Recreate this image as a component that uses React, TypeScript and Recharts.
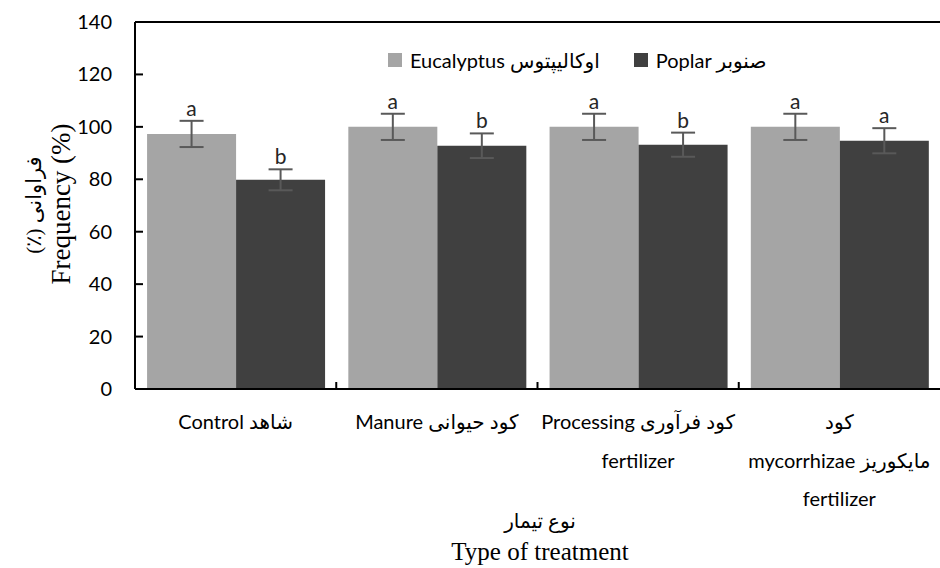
import React from "react";
import { BarChart, Bar, XAxis, YAxis, ErrorBar, LabelList, ReferenceLine } from "recharts";

const treatments = ["Control", "Manure", "Processing", "Mycorrhizae"];
const tickLines = [
  ["Control شاهد"],
  ["Manure کود حیوانی"],
  ["Processing کود فرآوری", "fertilizer"],
  ["کود", "mycorrhizae مایکوریز", "fertilizer"],
];
const eucalyptus = [97.3, 100, 100, 100];
const eucalyptusErr = [5, 5, 5, 5];
const eucalyptusLetters = ["a", "a", "a", "a"];
const poplar = [79.8, 92.8, 93.2, 94.7];
const poplarErr = [4, 4.7, 4.6, 4.8];
const poplarLetters = ["b", "b", "b", "a"];
const yTicks = [0, 20, 40, 60, 80, 100, 120, 140];
const seriesNames = ["Eucalyptus اوکالیپتوس", "Poplar صنوبر"];
const seriesColors = ["#A5A5A5", "#404040"];

const W = 940;
const H = 568;
const margin = { top: 22, right: 0, left: 0, bottom: 79 };
const yAxisWidth = 135;
const band = (W - yAxisWidth - margin.left - margin.right) / treatments.length;
const sans = "Lato, 'DejaVu Sans', sans-serif";
const serif = "'Liberation Serif', 'DejaVu Sans', serif";

const data = treatments.map((name, i) => ({
  name,
  eucalyptus: eucalyptus[i],
  eucalyptusErr: eucalyptusErr[i],
  eucalyptusLetter: eucalyptusLetters[i],
  poplar: poplar[i],
  poplarErr: poplarErr[i],
  poplarLetter: poplarLetters[i],
}));

function XTick(props: any) {
  const { x, y, payload } = props;
  const idx = payload.index ?? props.index ?? 0;
  const lines = tickLines[idx];
  return (
    <g>
      {idx > 0 && (
        <line x1={x - band / 2} x2={x - band / 2} y1={y} y2={y - 7} stroke="#000" strokeWidth={2} />
      )}
      {lines.map((l, i) => (
        <text key={i} x={x} y={y + 40 + i * 38.5} textAnchor="middle" fontSize={20} fontFamily={sans} fill="#000">
          {l}
        </text>
      ))}
    </g>
  );
}

function YTick(props: any) {
  const { x, y, payload } = props;
  return (
    <g>
      <line x1={x + 23} x2={x + 31} y1={y} y2={y} stroke="#000" strokeWidth={2} />
      <text x={x} y={y} dy="0.35em" textAnchor="end" fontSize={20} fontFamily={sans} fill="#000">
        {payload.value}
      </text>
    </g>
  );
}

function letterLabel(values: number[], errs: number[]) {
  return (props: any) => {
    const vb = props.viewBox || {};
    const x = props.x ?? vb.x;
    const y = props.y ?? vb.y;
    const width = props.width ?? vb.width;
    const height = props.height ?? vb.height;
    const i = props.index ?? 0;
    const k = height / values[i];
    const top = y - errs[i] * k;
    return (
      <text x={x + width / 2} y={top - 5} textAnchor="middle" fontSize={21} fontFamily={sans} fill="#262626">
        {props.value}
      </text>
    );
  };
}

export default function App() {
  return (
    <div style={{ position: "absolute", left: 0, top: 0, width: W, height: H, background: "#fff", overflow: "hidden" }}>
      <BarChart width={W} height={H} data={data} margin={margin} barCategoryGap="6%" barGap={0}>
        <XAxis
          dataKey="name"
          height={100}
          axisLine={{ stroke: "#000", strokeWidth: 2 }}
          tickLine={false}
          tickSize={0}
          tickMargin={0}
          interval={0}
          tick={<XTick />}
        />
        <YAxis
          width={yAxisWidth}
          domain={[0, 140]}
          ticks={yTicks}
          axisLine={{ stroke: "#000", strokeWidth: 2 }}
          tickLine={false}
          tickSize={0}
          tickMargin={23}
          tick={<YTick />}
        />
        <ReferenceLine y={140} stroke="#000" strokeWidth={2} />
        <Bar dataKey="eucalyptus" fill={seriesColors[0]} isAnimationActive={false}>
          <ErrorBar dataKey="eucalyptusErr" width={12} stroke="#595959" strokeWidth={2} />
          <LabelList dataKey="eucalyptusLetter" content={letterLabel(eucalyptus, eucalyptusErr)} />
        </Bar>
        <Bar dataKey="poplar" fill={seriesColors[1]} isAnimationActive={false}>
          <ErrorBar dataKey="poplarErr" width={12} stroke="#595959" strokeWidth={2} />
          <LabelList dataKey="poplarLetter" content={letterLabel(poplar, poplarErr)} />
        </Bar>
      </BarChart>
      <div
        style={{
          position: "absolute", left: 388, top: 49, display: "flex", alignItems: "center",
          fontFamily: sans, fontSize: 20, color: "#000", whiteSpace: "nowrap", lineHeight: "22px",
        }}
      >
        {seriesNames.map((label, i) => (
          <div key={i} style={{ display: "flex", alignItems: "center", marginRight: i === 0 ? 34 : 0 }}>
            <span style={{ width: 14, height: 14, background: seriesColors[i], display: "inline-block", marginRight: 8 }} />
            <span>{label}</span>
          </div>
        ))}
      </div>
      <div
        style={{
          position: "absolute", left: 34, top: 205, transform: "translate(-50%, -50%) rotate(-90deg)",
          fontFamily: serif, fontSize: 21, whiteSpace: "nowrap", direction: "rtl",
        }}
      >
        فراوانی (٪)
      </div>
      <div
        style={{
          position: "absolute", left: 61, top: 204, transform: "translate(-50%, -50%) rotate(-90deg)",
          fontFamily: serif, fontSize: 27, whiteSpace: "nowrap",
        }}
      >
        Frequency (%)
      </div>
      <div
        style={{
          position: "absolute", left: 540, top: 521, transform: "translate(-50%, -50%)",
          fontFamily: serif, fontSize: 20, whiteSpace: "nowrap", direction: "rtl",
        }}
      >
        نوع تیمار
      </div>
      <div
        style={{
          position: "absolute", left: 540, top: 552, transform: "translate(-50%, -50%)",
          fontFamily: serif, fontSize: 25, whiteSpace: "nowrap", lineHeight: "28px",
        }}
      >
        Type of treatment
      </div>
    </div>
  );
}
